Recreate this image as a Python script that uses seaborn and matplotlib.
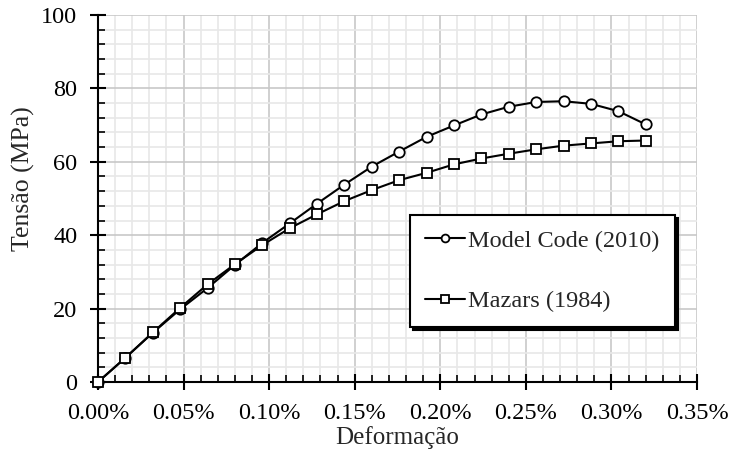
import matplotlib
matplotlib.use("Agg")
import matplotlib.pyplot as plt
from matplotlib.ticker import MultipleLocator, PercentFormatter
import seaborn as sns
import pandas as pd

# Strain (as a fraction) and stress (MPa) for the two constitutive models
deformacao = [0.00000, 0.00016, 0.00032, 0.00048, 0.00064, 0.00080, 0.00096,
              0.00112, 0.00128, 0.00144, 0.00160, 0.00176, 0.00192, 0.00208,
              0.00224, 0.00240, 0.00256, 0.00272, 0.00288, 0.00304, 0.00320]
model_code = [0.0, 6.6, 13.4, 19.8, 25.6, 31.9, 37.9, 43.2, 48.6, 53.8, 58.7,
              62.8, 66.8, 69.9, 72.9, 75.0, 76.3, 76.5, 75.8, 73.8, 70.2]
mazars = [0.0, 6.6, 13.5, 20.2, 26.6, 32.1, 37.3, 41.9, 45.7, 49.3, 52.3,
          55.0, 57.0, 59.3, 60.9, 62.2, 63.4, 64.4, 65.0, 65.6, 65.8]
series = ["Model Code (2010)", "Mazars (1984)"]

df = pd.DataFrame({
    "Deformação": deformacao * 2,
    "Tensão (MPa)": model_code + mazars,
    "Modelo": [series[0]] * len(deformacao) + [series[1]] * len(deformacao),
})

sns.set_style("white")
plt.rcParams["font.family"] = ["Liberation Serif", "DejaVu Serif"]
plt.rcParams["font.size"] = 17.5

fig = plt.figure(figsize=(7.33, 4.66), dpi=100)
ax = fig.add_axes([98 / 733, 84 / 466, 599 / 733, 367 / 466])

sns.lineplot(
    data=df, x="Deformação", y="Tensão (MPa)", hue="Modelo", style="Modelo",
    hue_order=series, style_order=series,
    palette=["black", "black"], markers={series[0]: "o", series[1]: "s"},
    dashes=False, linewidth=1.5, markersize=7.5,
    markerfacecolor="white", markeredgecolor="black", markeredgewidth=1.3,
    legend=False, ax=ax, zorder=5, clip_on=False,
)

ax.set_xlim(0, 0.0035)
ax.set_ylim(0, 100)
ax.xaxis.set_major_locator(MultipleLocator(0.0005))
ax.xaxis.set_minor_locator(MultipleLocator(0.0001))
ax.yaxis.set_major_locator(MultipleLocator(20))
ax.yaxis.set_minor_locator(MultipleLocator(4))
ax.xaxis.set_major_formatter(PercentFormatter(xmax=1, decimals=2))

ax.grid(which="major", color="#c8c8c8", linewidth=1.2)
ax.grid(which="minor", color="#e8e8e8", linewidth=1.2)
ax.set_axisbelow(True)

for side in ("top", "right"):
    ax.spines[side].set_visible(False)
for side in ("left", "bottom"):
    ax.spines[side].set_color("black")
    ax.spines[side].set_linewidth(1.5)
    ax.spines[side].set_zorder(4)

ax.tick_params(which="major", direction="inout", length=12, width=1.5,
               color="black", pad=9, labelsize=17.5, labelcolor="black")
ax.tick_params(which="minor", direction="in", length=5, width=1.2,
               color="black")
ax.tick_params(axis="both", which="both", bottom=True, left=True)

ax.set_xlabel("Deformação", fontsize=18)
ax.set_ylabel("Tensão (MPa)", fontsize=18.5)
ax.xaxis.label.set_va("center")
ax.yaxis.label.set_va("center")
ax.xaxis.set_label_coords(0.5, -0.152)
ax.yaxis.set_label_coords(-0.125, 0.553)

leg = ax.legend(
    handles=ax.lines[:2], labels=series,
    loc="center", bbox_to_anchor=(0.521, 0.147, 0.442, 0.311), mode="expand",
    borderaxespad=0.0,
    frameon=True, fancybox=False, shadow={"color": "black", "alpha": 1.0},
    edgecolor="black", framealpha=1.0, fontsize=17.5,
    handlelength=1.65, handletextpad=0.15, labelspacing=1.6,
    borderpad=0.6, markerscale=0.75,
)
leg.get_frame().set_linewidth(1.5)
leg.set_zorder(6)

fig.savefig("out.png", dpi=100)
